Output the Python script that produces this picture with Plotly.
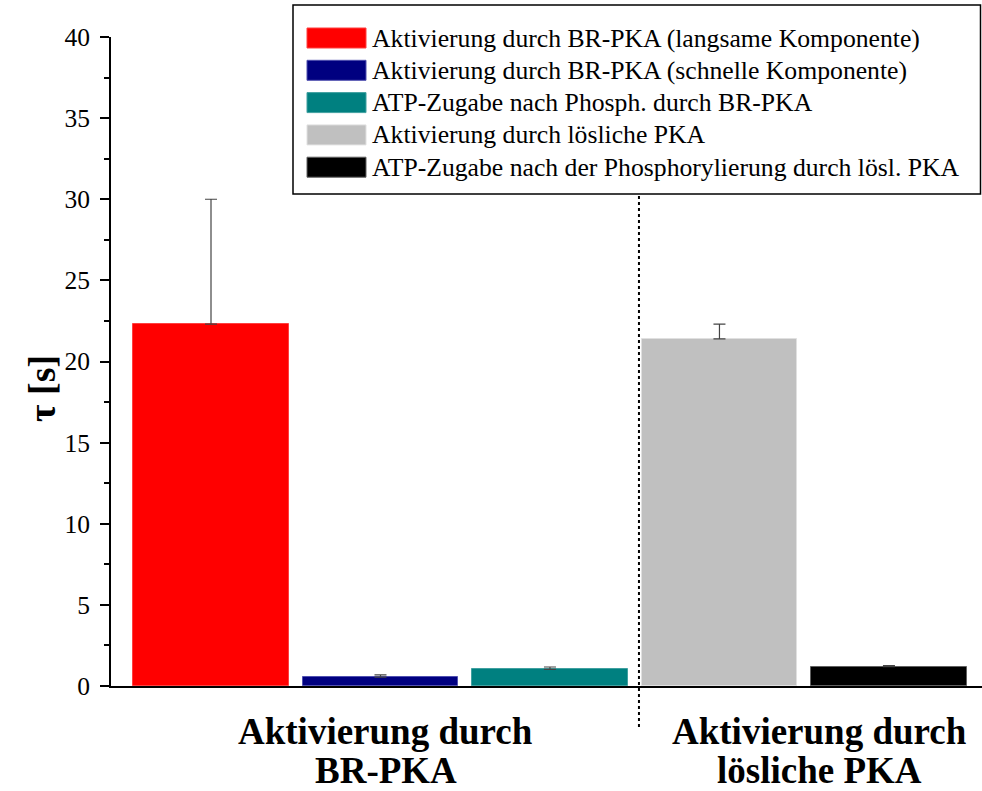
import plotly.graph_objects as go

# ---- data ----
series_names = [
    "Aktivierung durch BR-PKA (langsame Komponente)",
    "Aktivierung durch BR-PKA (schnelle Komponente)",
    "ATP-Zugabe nach Phosph. durch BR-PKA",
    "Aktivierung durch lösliche PKA",
    "ATP-Zugabe nach der Phosphorylierung durch lösl. PKA",
]
bar_positions = [1, 2, 3, 4, 5]
tau_values = [22.3, 0.55, 1.03, 21.4, 1.19]
tau_errors = [7.7, 0.13, 0.14, 0.9, 0.07]
bar_colors = ["#FF0000", "#000080", "#008080", "#C0C0C0", "#000000"]
edge_colors = ["#FF4040", "#5050B0", "#40A0A0", "#E0E0E0", "#606060"]

group_labels = [["Aktivierung durch", "BR-PKA"], ["Aktivierung durch", "lösliche PKA"]]
group_label_pos = [2.03, 4.59]
separator_pos = 3.525
y_title = "τ [s]"

# ---- layout geometry (pixels) ----
W, H = 982, 791
L, R, T = 111, 0, 37
B = H - 686
PW, PH = W - L - R, H - T - B


def px(x):
    return (x - L) / PW


def py(y):
    return (H - B - y) / PH


FONT = "Liberation Serif, Times New Roman, serif"

fig = go.Figure()
for i in range(len(series_names)):
    fig.add_trace(go.Bar(
        x=[bar_positions[i]], y=[tau_values[i]], name=series_names[i],
        width=0.92,
        marker=dict(color=bar_colors[i], line=dict(color=edge_colors[i], width=1)),
        error_y=dict(type="data", array=[tau_errors[i]], arrayminus=[0], symmetric=False,
                     color="#444444", thickness=1.2, width=6),
        showlegend=False,
    ))

shapes = []
annotations = []

# separator dotted line
shapes.append(dict(type="line", xref="x", yref="paper", x0=separator_pos, x1=separator_pos,
                   y0=py(196), y1=py(730), line=dict(color="black", width=2, dash="dot")))

# custom legend box
shapes.append(dict(type="rect", xref="paper", yref="paper", x0=px(293), x1=px(980.5),
                   y0=py(5), y1=py(194), line=dict(color="black", width=1.5),
                   fillcolor="white", layer="above"))
for i, (name, col) in enumerate(zip(series_names, bar_colors)):
    yc = 38 + i * 32.3
    shapes.append(dict(type="rect", xref="paper", yref="paper", x0=px(307), x1=px(366),
                       y0=py(yc - 10), y1=py(yc + 10), line=dict(color=edge_colors[i], width=1),
                       fillcolor=col, layer="above"))
    annotations.append(dict(xref="paper", yref="paper", x=px(370), y=py(yc), text=name,
                            showarrow=False, xanchor="left", yanchor="middle",
                            font=dict(family=FONT, size=25.7, color="black")))

# y axis title
annotations.append(dict(xref="paper", yref="paper", x=px(42), y=py(389), text="<b>" + y_title + "</b>",
                        showarrow=False, textangle=-90, xanchor="center", yanchor="middle",
                        font=dict(family=FONT, size=38, color="black")))

# group labels (one annotation per line)
for lines, pos in zip(group_labels, group_label_pos):
    for j, line in enumerate(lines):
        annotations.append(dict(xref="x", yref="paper", x=pos, y=py(731 + 39 * j),
                                text="<b>" + line + "</b>",
                                showarrow=False, xanchor="center", yanchor="middle",
                                font=dict(family=FONT, size=37, color="black")))

fig.update_layout(
    width=W, height=H,
    margin=dict(l=L, r=R, t=T, b=B),
    plot_bgcolor="white", paper_bgcolor="white",
    bargap=0, barmode="overlay",
    shapes=shapes, annotations=annotations,
    font=dict(family=FONT, color="black"),
)
fig.update_xaxes(range=[0.41, 5.549], showticklabels=False, ticks="", showgrid=False,
                 zeroline=False, showline=True, linecolor="black", linewidth=2)
fig.update_yaxes(range=[0, 40], dtick=5, tick0=0, ticks="outside", ticklen=9, tickwidth=2,
                 tickcolor="black", showgrid=False, zeroline=False, showline=True,
                 linecolor="black", linewidth=2, ticklabelstandoff=5,
                 tickfont=dict(family=FONT, size=25.5, color="black"),
                 minor=dict(dtick=2.5, ticks="outside", ticklen=5, tickwidth=2, tickcolor="black"))

fig.write_html(
    "out.html",
    config={"displayModeBar": False},
    post_script="document.body.style.margin='0';document.body.style.overflow='hidden';",
)
